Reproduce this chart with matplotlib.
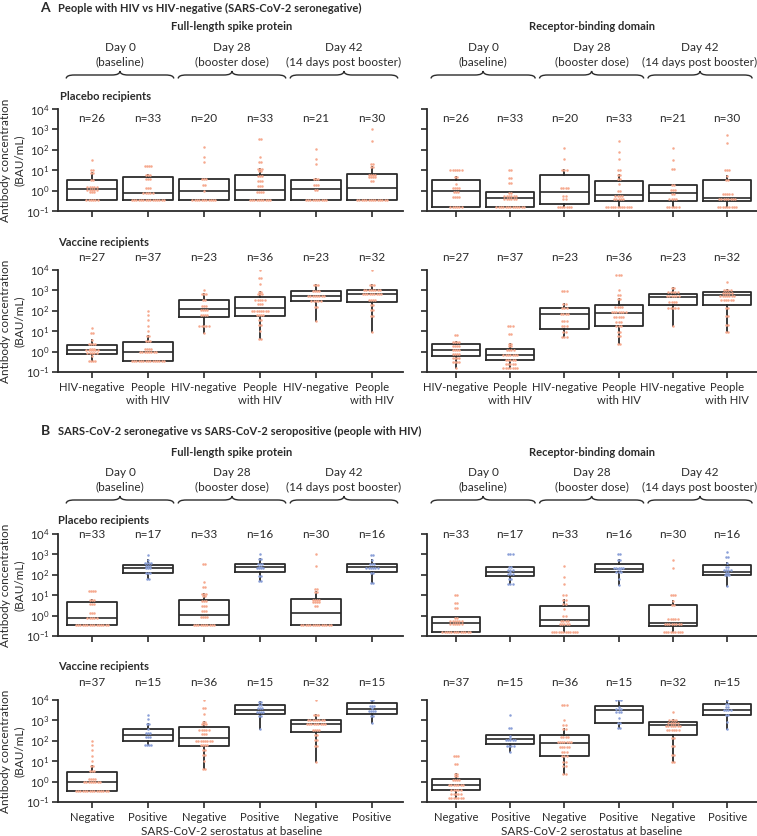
import numpy as np
import matplotlib
matplotlib.use("Agg")
import matplotlib.pyplot as plt
from matplotlib.path import Path
from matplotlib.patches import PathPatch
from matplotlib.transforms import blended_transform_factory as blend

plt.rcParams['font.family'] = ['Lato', 'DejaVu Sans']
plt.rcParams['mathtext.default'] = 'regular'

# ---- data: each group is a list of (BAU/mL, number of dots at that level) ----
days = ["Day 0\n(baseline)", "Day 28\n(booster dose)", "Day 42\n(14 days post booster)"]
hiv_labels = ["HIV-negative", "People\nwith HIV"] * 3
sero_labels = ["Negative", "Positive"] * 3

# A: HIV-negative / people with HIV, per day
a_pl_fl_dots = [
    [(33, 1), (10, 2), (7, 2), (3.2, 2), (1.5, 5), (1.1, 5), (0.9, 3), (0.36, 6)],
    [(16, 4), (6, 3), (3.9, 3), (1.3, 3), (0.8, 5), (0.36, 15)],
    [(130, 1), (45, 1), (24, 1), (3.7, 3), (1.8, 2), (1.0, 1), (0.36, 11)],
    [(330, 2), (45, 1), (24, 2), (11.6, 3), (8.9, 2), (5, 3), (2.9, 3), (1.7, 3), (0.9, 4), (0.36, 10)],
    [(115, 1), (36, 1), (20, 1), (3.9, 3), (1.8, 3), (1.1, 2), (0.36, 10)],
    [(1000, 1), (275, 1), (20, 2), (14, 2), (5.9, 4), (4.7, 4), (2.8, 2), (0.36, 14)],
]
a_pl_fl_box = [(0.36, 1.2, 3.5), (0.36, 0.8, 4.5), (0.36, 1.0, 3.9),
               (0.36, 1.1, 6.1), (0.36, 1.15, 3.3), (0.36, 1.4, 6.4)]

a_pl_rbd_dots = [
    [(10, 6), (4.4, 2), (2.0, 1), (1.4, 4), (0.9, 3), (0.47, 4), (0.15, 6)],
    [(10, 2), (4.2, 2), (2.4, 2), (0.77, 2), (0.53, 6), (0.37, 6), (0.15, 13)],
    [(120, 1), (36, 1), (10, 3), (1.3, 4), (0.55, 2), (0.37, 2), (0.15, 7)],
    [(265, 1), (80, 1), (37, 1), (10, 2), (5.5, 2), (3.7, 2), (2.0, 1), (1.0, 2), (0.57, 4), (0.39, 5), (0.15, 12)],
    [(125, 1), (30, 1), (11, 2), (1.8, 2), (1.1, 3), (0.69, 2), (0.37, 4), (0.15, 6)],
    [(525, 1), (205, 1), (10, 3), (5.3, 1), (3.5, 2), (0.66, 5), (0.39, 8), (0.15, 9)],
]
a_pl_rbd_box = [(0.15, 1.0, 3.3), (0.16, 0.42, 0.86), (0.22, 0.86, 5.7),
                (0.3, 0.59, 3.0), (0.3, 0.8, 1.8), (0.31, 0.42, 3.3)]

a_vac_fl_dots = [
    [(15, 1), (8.6, 2), (3.7, 1), (2.3, 4), (1.4, 3), (1.2, 6), (0.9, 5), (0.64, 1), (0.35, 4)],
    [(100, 1), (60, 1), (35, 1), (19, 1), (10, 1), (5.5, 2), (3.3, 3), (1.4, 4), (0.93, 8), (0.35, 15)],
    [(1000, 1), (660, 3), (345, 2), (180, 3), (110, 4), (61, 4), (18, 5), (8, 1)],
    [(9500, 1), (3900, 2), (2000, 1), (800, 2), (630, 3), (345, 5), (205, 3), (103, 8), (61, 4), (35, 2), (20, 2), (10, 1), (4.2, 2)],
    [(1780, 3), (960, 4), (525, 8), (290, 5), (155, 2), (30, 1)],
    [(10000, 1), (1800, 3), (1000, 8), (630, 9), (345, 4), (195, 2), (110, 2), (57, 2), (9.2, 1)],
]
a_vac_fl_box = [(0.74, 1.16, 2.0), (0.35, 0.96, 3.0), (52, 120, 345),
                (57, 145, 500), (290, 525, 960), (280, 700, 1080)]

a_vac_rbd_dots = [
    [(6.2, 2), (3.1, 4), (1.96, 4), (1.25, 4), (0.77, 4), (0.49, 4), (0.3, 4), (0.15, 1)],
    [(19, 3), (7.2, 2), (2.4, 2), (1.8, 2), (1.16, 4), (0.69, 7), (0.39, 5), (0.24, 5), (0.15, 7)],
    [(980, 3), (218, 2), (133, 3), (71, 4), (31, 3), (17.8, 3), (9, 2), (5, 3)],
    [(6000, 3), (1050, 1), (620, 2), (380, 2), (160, 4), (89, 7), (49, 5), (29, 3), (17, 3), (9.4, 2), (5.8, 2), (2.3, 2)],
    [(1300, 2), (830, 5), (510, 6), (270, 4), (140, 5), (18.5, 1)],
    [(13000, 1), (2500, 1), (1100, 4), (780, 5), (510, 7), (330, 6), (130, 2), (57, 2), (20, 2), (8.7, 2)],
]
a_vac_rbd_box = [(0.61, 1.16, 2.3), (0.38, 0.69, 1.3), (13, 68, 133),
                 (17.8, 80, 195), (200, 500, 690), (195, 600, 830)]

# B: SARS-CoV-2 seropositive people with HIV (seronegative = people with HIV from A)
b_pl_fl_pos_dots = [
    [(920, 1), (525, 1), (360, 4), (265, 3), (212, 3), (116, 3), (61, 2)],
    [(1100, 1), (610, 2), (320, 3), (250, 2), (205, 4), (86, 2), (49, 2)],
    [(930, 2), (545, 1), (335, 3), (220, 6), (120, 2), (40, 2)],
]
b_pl_fl_pos_box = [(125, 220, 300), (130, 250, 350), (135, 240, 350)]

b_pl_rbd_pos_dots = [
    [(1000, 3), (240, 2), (170, 3), (140, 1), (112, 3), (63, 2), (35, 3)],
    [(1000, 2), (530, 2), (220, 5), (200, 2), (135, 3), (59, 1), (31, 1)],
    [(1300, 1), (740, 2), (360, 1), (240, 2), (165, 4), (120, 2), (96, 3), (27, 1)],
]
b_pl_rbd_pos_box = [(83, 140, 250), (135, 200, 350), (100, 145, 310)]

b_vac_fl_pos_dots = [
    [(1900, 1), (1160, 1), (660, 2), (400, 1), (255, 3), (158, 3), (59, 4)],
    [(14500, 1), (8400, 2), (5700, 2), (3900, 3), (2600, 4), (1650, 2), (390, 1)],
    [(19000, 2), (10500, 2), (5100, 3), (3900, 1), (3000, 4), (1600, 2), (740, 1)],
]
b_vac_fl_pos_box = [(96, 200, 400), (2050, 3100, 5500), (2100, 3500, 7000)]

b_vac_rbd_pos_dots = [
    [(1850, 1), (415, 2), (175, 1), (140, 1), (104, 5), (57, 4), (27, 1)],
    [(10000, 3), (4700, 1), (3500, 3), (2500, 3), (1270, 1), (755, 2), (415, 2)],
    [(19000, 2), (10000, 1), (6200, 2), (4500, 2), (3250, 4), (1850, 2), (820, 1), (360, 1)],
]
b_vac_rbd_pos_box = [(71, 120, 183), (755, 3250, 4900), (1850, 3400, 6200)]

ORANGE = "#F6A98E"
BLUE = "#8A9FD8"
INK = "#2b2b2b"
FS = 8.5
W, H = 757, 836

fig = plt.figure(figsize=(W / 100, H / 100), dpi=100)


def add_ax(left, top, right, bottom):
    return fig.add_axes([left / W, 1 - bottom / H, (right - left) / W, (bottom - top) / H])


def interleave(neg, pos):
    out = []
    for a, b in zip(neg[1::2], pos):
        out += [a, b]
    return out


def whiskers(vals, q1, q3):
    iqr = q3 - q1
    lo = min(v for v in vals if v >= q1 - 1.5 * iqr)
    hi = max(v for v in vals if v <= q3 + 1.5 * iqr)
    return min(lo, q1), max(hi, q3)


def fy(ypx):
    return 1 - ypx / H


def panel(ax, dots, boxes, colors, xlim, n_y, xlabels, show_y):
    stats = []
    for d, (q1, med, q3) in zip(dots, boxes):
        vals = [v for v, c in d for _ in range(c)]
        lo, hi = whiskers(vals, q1, q3)
        stats.append(dict(q1=q1, med=med, q3=q3, whislo=lo, whishi=hi, fliers=[]))
    pos = np.arange(len(stats))
    ax.set_yscale('log')
    ax.bxp(stats, positions=pos, widths=0.89, showfliers=False, showcaps=False,
           boxprops=dict(color=INK, lw=1.3), medianprops=dict(color=INK, lw=1.2),
           whiskerprops=dict(color=INK, lw=1.3), manage_ticks=False, zorder=2)
    ppu = ax.bbox.width / (xlim[1] - xlim[0])
    dx = 2.3 / ppu
    tr = blend(ax.transData, ax.transAxes)
    for i, d in enumerate(dots):
        for v, c in d:
            xs = pos[i] + (np.arange(c) - (c - 1) / 2) * dx
            ax.plot(xs, [v] * c, 'o', ms=1.8, mec='none', color=colors[i], zorder=3)
        n = sum(c for v, c in d)
        ax.text(pos[i], n_y, f"n={n}", transform=tr, ha='center', va='center',
                fontsize=FS, color=INK, clip_on=False)
    ax.set_xlim(*xlim)
    ax.set_ylim(0.1, 1e4)
    ax.set_yticks([0.1, 1, 10, 100, 1000, 10000])
    ax.yaxis.set_minor_locator(plt.NullLocator())
    if show_y:
        ax.set_yticklabels(["10$^{-1}$", "10$^{0}$", "10$^{1}$", "10$^{2}$", "10$^{3}$", "10$^{4}$"])
    else:
        ax.set_yticklabels([])
    ax.set_xticks(pos)
    ax.set_xticklabels(xlabels if xlabels else [""] * len(pos))
    for s in ['top', 'right']:
        ax.spines[s].set_visible(False)
    for s in ['left', 'bottom']:
        ax.spines[s].set_color(INK)
        ax.spines[s].set_linewidth(1.3)
    ax.tick_params(colors=INK, length=4, width=1.2, labelsize=8.1)
    ax.tick_params(axis='x', pad=3.5)
    ax.tick_params(axis='y', pad=2)
    ax.patch.set_alpha(0)


def brace(ax, x0, x1, ypx):
    tr = blend(ax.transData, fig.transFigure)
    ppu = ax.bbox.width / (ax.get_xlim()[1] - ax.get_xlim()[0])
    r = 8 / ppu
    xm = (x0 + x1) / 2
    yb, yd, yu = fy(ypx), fy(ypx + 3.5), fy(ypx - 4)
    verts = [(x0, yd), (x0, yb), (x0 + r, yb), (xm - r, yb), (xm, yb), (xm, yu),
             (xm, yb), (xm + r, yb), (x1 - r, yb), (x1, yb), (x1, yd)]
    codes = [Path.MOVETO, Path.CURVE3, Path.CURVE3, Path.LINETO, Path.CURVE3, Path.CURVE3,
             Path.CURVE3, Path.CURVE3, Path.LINETO, Path.CURVE3, Path.CURVE3]
    fig.add_artist(PathPatch(Path(verts, codes), transform=tr, fill=False, lw=1.0, color=INK))


def headers(ax, title, y_title, y_days, y_brace):
    tr = blend(ax.transData, fig.transFigure)
    ax.text(2.5, fy(y_title), title, transform=tr, ha='center', va='center',
            fontsize=8, fontweight='bold', color=INK)
    for k, day in enumerate(days):
        ax.text(2 * k + 0.5, fy(y_days), day, transform=tr, ha='center', va='center',
                fontsize=FS, color=INK, linespacing=1.35)
        brace(ax, 2 * k - 0.46, 2 * k + 1.46, y_brace)


XL_L = (-0.607, 5.554)
XL_R = (-0.535, 5.55)
A_COL = [ORANGE] * 6
B_COL = [ORANGE, BLUE] * 3

rows = [
    # (top, bottom, left dots, left box, right dots, right box, colours, n label y, xlabels)
    (109, 211, a_pl_fl_dots, a_pl_fl_box, a_pl_rbd_dots, a_pl_rbd_box, A_COL, 0.91, None),
    (270, 372, a_vac_fl_dots, a_vac_fl_box, a_vac_rbd_dots, a_vac_rbd_box, A_COL, 1.12, hiv_labels),
    (534, 636, interleave(a_pl_fl_dots, b_pl_fl_pos_dots), interleave(a_pl_fl_box, b_pl_fl_pos_box),
     interleave(a_pl_rbd_dots, b_pl_rbd_pos_dots), interleave(a_pl_rbd_box, b_pl_rbd_pos_box), B_COL, 1.0, None),
    (700, 802, interleave(a_vac_fl_dots, b_vac_fl_pos_dots), interleave(a_vac_fl_box, b_vac_fl_pos_box),
     interleave(a_vac_rbd_dots, b_vac_rbd_pos_dots), interleave(a_vac_rbd_box, b_vac_rbd_pos_box), B_COL, 1.17, sero_labels),
]

axes = []
for top, bot, ld, lb, rd, rb, cols, ny, xl in rows:
    axl = add_ax(58, top, 403, bot)
    axr = add_ax(427, top, 757, bot)
    panel(axl, ld, lb, cols, XL_L, ny, xl, True)
    panel(axr, rd, rb, cols, XL_R, ny, xl, False)
    fig.text(12.5 / W, fy((top + bot) / 2), "Antibody concentration\n(BAU/mL)", rotation=90,
             ha='center', va='center', fontsize=FS, color=INK, linespacing=1.25)
    axes.append((axl, axr))

# headers
for (axl, axr), (yt, yd, yb) in zip([axes[0], axes[2]], [(27, 55, 75), (453, 480, 500)]):
    headers(axl, "Full-length spike protein", yt, yd, yb)
    headers(axr, "Receptor-binding domain", yt, yd, yb)

fig.text(45 / W, fy(8), "A", fontsize=10, fontweight='bold', ha='center', va='center', color=INK)
fig.text(58 / W, fy(8), "People with HIV vs HIV-negative (SARS-CoV-2 seronegative)",
         fontsize=8, fontweight='bold', va='center', color=INK)
fig.text(45 / W, fy(431), "B", fontsize=10, fontweight='bold', ha='center', va='center', color=INK)
fig.text(58 / W, fy(431), "SARS-CoV-2 seronegative vs SARS-CoV-2 seropositive (people with HIV)",
         fontsize=8, fontweight='bold', va='center', color=INK)

for x, y, s in [(60, 96, "Placebo recipients"), (58, 242, "Vaccine recipients"),
                (58, 520, "Placebo recipients"), (58, 666, "Vaccine recipients")]:
    fig.text(x / W, fy(y), s, fontsize=8, fontweight='bold', va='center', color=INK)

for ax in axes[3]:
    ax.text(2.5, fy(831.5), "SARS-CoV-2 serostatus at baseline", transform=blend(ax.transData, fig.transFigure),
            ha='center', va='center', fontsize=FS, color=INK)

fig.savefig("out.png", dpi=100)
